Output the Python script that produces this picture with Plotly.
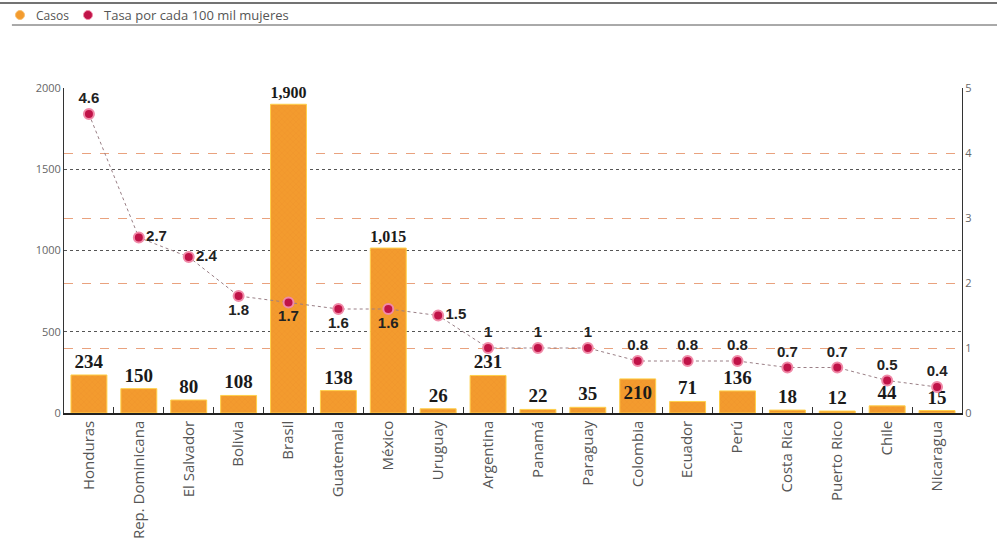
import plotly.graph_objects as go

countries = ["Honduras", "Rep. Dominicana", "El Salvador", "Bolivia", "Brasil", "Guatemala",
             "México", "Uruguay", "Argentina", "Panamá", "Paraguay", "Colombia", "Ecuador",
             "Perú", "Costa Rica", "Puerto Rico", "Chile", "Nicaragua"]
casos = [234, 150, 80, 108, 1900, 138, 1015, 26, 231, 22, 35, 210, 71, 136, 18, 12, 44, 15]
tasa = [4.6, 2.7, 2.4, 1.8, 1.7, 1.6, 1.6, 1.5, 1, 1, 1, 0.8, 0.8, 0.8, 0.7, 0.7, 0.5, 0.4]
tasa_labels = ["4.6", "2.7", "2.4", "1.8", "1.7", "1.6", "1.6", "1.5", "1", "1", "1",
               "0.8", "0.8", "0.8", "0.7", "0.7", "0.5", "0.4"]
tasa_pos = ["top center", "middle right", "middle right", "bottom center", "bottom center",
            "bottom center", "bottom center", "middle right"] + ["top center"] * 10
bar_pos = ["outside"] * 11 + ["inside"] + ["outside"] * 6
legend_names = ["Casos", "Tasa por cada 100 mil mujeres"]

ORANGE = "#F39B2E"
CRIMSON = "#C01348"

bar_font = dict(family="Liberation Serif", size=19, color="#1a1a1a", weight="bold")

fig = go.Figure()

fig.add_trace(go.Bar(
    x=countries, y=casos, name=legend_names[0], showlegend=False,
    marker=dict(color=ORANGE, line=dict(color="#FFD04A", width=1),
                pattern=dict(shape="x", fgcolor="#E8862A", size=4, solidity=0.15)),
    width=0.72,
    texttemplate="%{y:,}", textposition=bar_pos, insidetextanchor="end",
    textfont=bar_font, outsidetextfont=bar_font, insidetextfont=bar_font,
    cliponaxis=False, hoverinfo="skip",
))

fig.add_trace(go.Scatter(
    x=countries, y=tasa, yaxis="y2", name=legend_names[1], showlegend=False,
    mode="lines+markers+text",
    line=dict(color="#9a7f86", width=1, dash="dot"),
    marker=dict(size=10, color=CRIMSON, line=dict(color="#F08AA8", width=2)),
    text=tasa_labels, textposition=tasa_pos,
    textfont=dict(family="Liberation Sans", size=15, color="#222", weight="bold"),
    cliponaxis=False, hoverinfo="skip",
))

# Legend drawn as shapes + annotations (paper coords)
leg_y = 1.2246
shapes = [
    dict(type="line", xref="paper", yref="paper", x0=-0.075, x1=1.04, y0=1.2615, y1=1.2615,
         line=dict(color="#444", width=1.5)),
    dict(type="line", xref="paper", yref="paper", x0=-0.058, x1=1.04, y0=1.1938, y1=1.1938,
         line=dict(color="#555", width=1)),
    dict(type="circle", xref="paper", yref="paper", xsizemode="pixel", ysizemode="pixel",
         xanchor=-0.049, yanchor=leg_y, x0=-4.5, x1=4.5, y0=-4.5, y1=4.5,
         fillcolor=ORANGE, line=dict(color="#F8C070", width=1)),
    dict(type="circle", xref="paper", yref="paper", xsizemode="pixel", ysizemode="pixel",
         xanchor=0.0267, yanchor=leg_y, x0=-4.5, x1=4.5, y0=-4.5, y1=4.5,
         fillcolor=CRIMSON, line=dict(color="#F08AA8", width=1)),
]
annotations = [
    dict(text=legend_names[0], xref="paper", yref="paper", x=-0.0335, y=leg_y,
         xanchor="left", yanchor="middle", showarrow=False,
         font=dict(family="Open Sans", size=12, color="#555")),
    dict(text=legend_names[1], xref="paper", yref="paper", x=0.042, y=leg_y,
         xanchor="left", yanchor="middle", showarrow=False,
         font=dict(family="Open Sans", size=13, color="#555")),
]

fig.update_layout(
    width=997, height=548,
    margin=dict(l=64, r=35, t=88, b=135),
    paper_bgcolor="white", plot_bgcolor="white",
    bargap=0.28,
    font=dict(family="Open Sans", color="#555"),
    showlegend=False,
    xaxis=dict(type="category", range=[-0.5, len(countries) - 0.5], tickangle=-90,
               automargin=False,
               showline=True, linecolor="#222", linewidth=1.5,
               ticks="inside", tickson="boundaries", ticklen=6, tickcolor="#333",
               tickfont=dict(family="Open Sans", size=15, color="#555"),
               showgrid=False, zeroline=False),
    yaxis=dict(range=[0, 2000], tickvals=[0, 500, 1000, 1500, 2000], tickformat="d",
               automargin=False,
               showline=True, linecolor="#333", linewidth=1,
               showgrid=True, gridcolor="#555", griddash="dot", gridwidth=1,
               tickfont=dict(family="Open Sans", size=11, color="#666"),
               ticks="", zeroline=False),
    yaxis2=dict(range=[0, 5], tickvals=[0, 1, 2, 3, 4, 5], overlaying="y", side="right",
                automargin=False,
                showline=True, linecolor="#333", linewidth=1,
                showgrid=True, gridcolor="#E9A27E", griddash="dash", gridwidth=1,
                tickfont=dict(family="Open Sans", size=11, color="#666"),
                ticks="", zeroline=False),
    shapes=shapes,
    annotations=annotations,
)

fig.write_html("out.html", config={"displayModeBar": False},
               post_script="document.body.style.margin='0px';")
